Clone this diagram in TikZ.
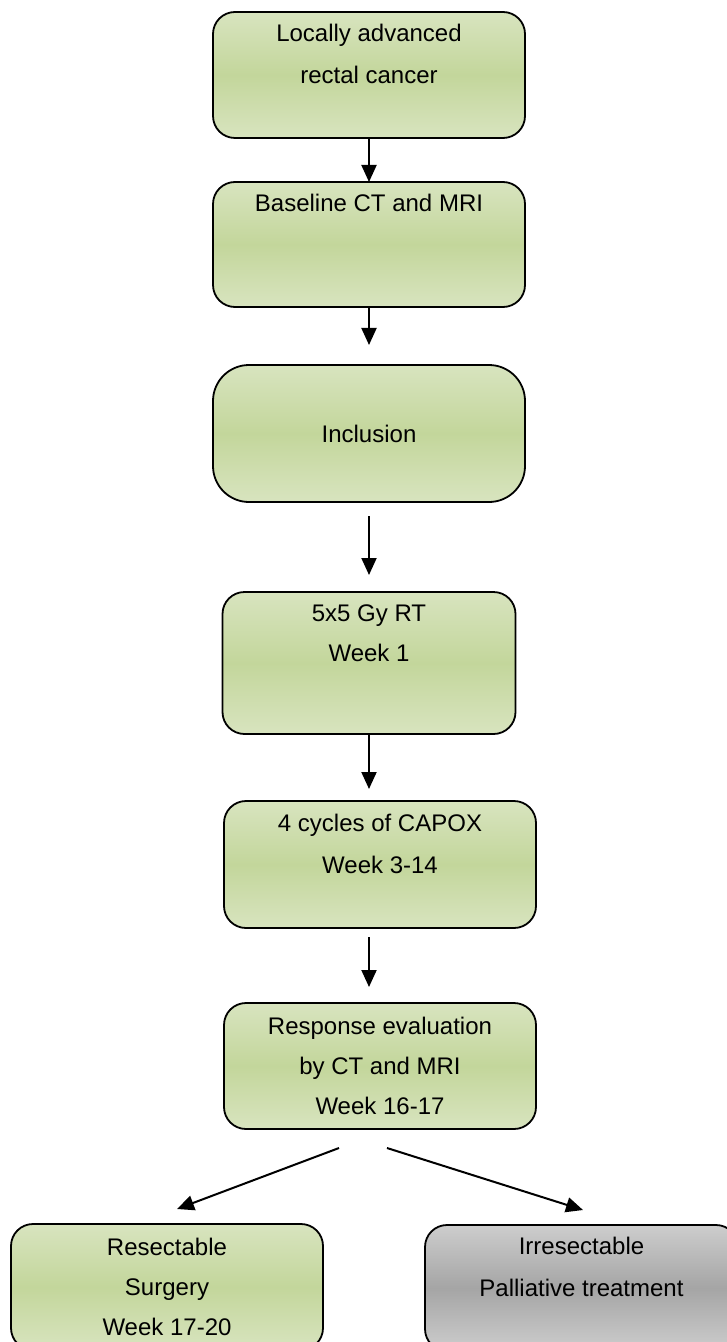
\documentclass[tikz,border=0pt]{standalone}
\usepackage{fontspec}
\setmainfont{Liberation Sans}
\usepackage{xcolor}
\usepackage{tikz}
\usetikzlibrary{shapes.geometric, arrows.meta, positioning, calc}
\definecolor{greenlight}{RGB}{216,228,191}
\definecolor{greendark}{RGB}{195,214,155}
\definecolor{greylight}{RGB}{205,205,205}
\definecolor{greydark}{RGB}{165,165,165}
\tikzstyle{greenbox} = [rectangle, rounded corners=11pt, minimum width=156pt, minimum height=63pt, inner sep=0pt, outer sep=0pt, text centered, align=center, draw=black, line width=0.9pt, top color=greenlight, bottom color=greenlight, middle color=greendark, font=\fontsize{12}{21}\selectfont]
\tikzstyle{greybox} = [greenbox, top color=greylight, bottom color=greylight, middle color=greydark]
\tikzstyle{tight} = [font=\fontsize{12}{20}\selectfont]
\tikzstyle{arrow} = [line width=1pt,-{Triangle[length=8.5pt,width=7.5pt]}]

\begin{document}
\begin{tikzpicture}[node distance=22pt]
  \useasboundingbox (0,0) rectangle (363.5pt,-671pt);
  % nodes
    \node (locally) [greenbox] at (184.5pt,-37.5pt) {Locally advanced\\rectal cancer\\ \mbox{}};
    \node (baseline) [greenbox, below=of locally, minimum height=62.5pt] {Baseline CT and MRI\\[21pt]\mbox{}};
    \node (inclusion) [greenbox, below=29pt of baseline, minimum height=68.5pt, rounded corners=18pt] {Inclusion};
    \node (radio) [greenbox, tight, below=45pt of inclusion, minimum width=146.5pt, minimum height=71pt] {5x5 Gy RT\\Week 1\\[10pt]\mbox{}};
    \node (capox) [greenbox, below=33.5pt of radio, xshift=5.5pt, minimum height=63.5pt] {4 cycles of CAPOX\\Week 3-14\\ \mbox{}};
    \node (evaluation) [greenbox, tight, below=37.5pt of capox] {Response evaluation\\by CT and MRI\\Week 16-17};
    \node (resectable) [greenbox, tight, below=47.5pt of evaluation, xshift=-106.5pt] {Resectable\\Surgery\\Week 17-20};
    \node (irresectable) [greybox, below=48pt of evaluation, xshift=100.75pt, minimum width=156.5pt] {Irresectable\\Palliative treatment\\ \mbox{}};
  % arrow ends
    \coordinate (inclusionin) at ($(inclusion.north)+(0,10pt)$);
    \coordinate (inclusionout) at ($(inclusion.south)+(0,-7pt)$);
    \coordinate (radioin) at ($(radio.north)+(0,8.5pt)$);
    \coordinate (capoxin) at ($(capox.north -| radio)+(0,6pt)$);
    \coordinate (capoxout) at ($(capox.south -| radio)+(0,-4.5pt)$);
    \coordinate (evaluationin) at ($(evaluation.north -| radio)+(0,8pt)$);
    \coordinate (splitleft) at ($(evaluation.south)+(-20.5pt,-9.5pt)$);
    \coordinate (splitright) at ($(evaluation.south)+(3.5pt,-9.5pt)$);
    \coordinate (resectablein) at ($(resectable.north)+(5pt,7.5pt)$);
    \coordinate (irresectablein) at ($(irresectable.north)+(0.75pt,7.5pt)$);
  %arrows
    \draw [arrow] (locally) -- (baseline);
    \draw [arrow] (baseline) -- (inclusionin);
    \draw [arrow] (inclusionout) -- (radioin);
    \draw [arrow] (radio) -- (capoxin);
    \draw [arrow] (capoxout) -- (evaluationin);
    \draw [arrow] (splitleft) -- (resectablein);
    \draw [arrow] (splitright) -- (irresectablein);
\end{tikzpicture}
\end{document}
